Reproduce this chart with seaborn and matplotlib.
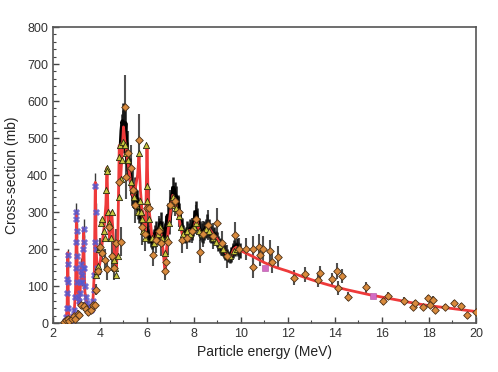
import numpy as np
import matplotlib
matplotlib.use("Agg")
import matplotlib.pyplot as plt
from matplotlib.ticker import MultipleLocator
import seaborn as sns

# Evaluated cross-section (red curve)
eval_e = [2.45, 2.55, 2.6, 2.63, 2.66, 2.72, 2.8, 2.9, 2.96, 3.0, 3.04, 3.1, 3.16, 3.2, 3.25, 3.3,
          3.35, 3.42, 3.5, 3.6, 3.7, 3.76, 3.8, 3.84, 3.9, 3.96, 4.02, 4.1, 4.18, 4.25, 4.3, 4.35,
          4.42, 4.5, 4.56, 4.62, 4.7, 4.76, 4.82, 4.88, 4.94, 5.0, 5.06, 5.12, 5.2, 5.28, 5.36,
          5.44, 5.52, 5.6, 5.66, 5.72, 5.78, 5.86, 5.94, 6.0, 6.04, 6.1, 6.2, 6.3, 6.4, 6.5, 6.6,
          6.7, 6.76, 6.82, 6.9, 7.0, 7.1, 7.2, 7.3, 7.4, 7.5, 7.6, 7.7, 7.8, 7.9, 8.0, 8.1, 8.2,
          8.3, 8.4, 8.5, 8.6, 8.7, 8.8, 8.9, 9.0, 9.1, 9.2, 9.3, 9.4, 9.5, 9.6, 9.7, 9.8, 9.9,
          10.0, 10.5, 11, 11.5, 12, 12.5, 13, 13.5, 14, 14.5, 15, 15.5, 16, 16.5, 17, 17.5, 18,
          18.5, 19, 19.5, 20]
eval_s = [0, 5, 40, 190, 30, 8, 12, 25, 90, 300, 120, 50, 90, 150, 110, 255,
          90, 50, 35, 30, 60, 140, 380, 190, 140, 150, 170, 220, 260, 320, 420, 260,
          230, 300, 240, 180, 150, 230, 480, 390, 460, 530, 490, 470, 430, 390, 350,
          340, 370, 400, 450, 360, 310, 270, 250, 480, 360, 300, 240, 220, 230, 250, 240,
          190, 140, 190, 250, 300, 345, 330, 300, 270, 240, 230, 240, 250, 245, 255, 285, 255,
          240, 235, 250, 260, 250, 240, 235, 225, 215, 205, 195, 185, 180, 185, 200, 205, 200,
          195, 180, 163, 150, 140, 128, 117, 107, 98, 90, 83, 76, 70, 64, 58, 52, 47,
          43, 39, 35, 31]

# Low-energy measurement (blue stars)
blue_e = [2.52, 2.56, 2.58, 2.6, 2.61, 2.62, 2.63, 2.64, 2.66, 2.7, 2.75, 2.8, 2.85, 2.9, 2.94,
          2.97, 2.98, 2.99, 3.0, 3.01, 3.02, 3.04, 3.07, 3.1, 3.13, 3.16, 3.18, 3.2, 3.22, 3.24,
          3.27, 3.29, 3.3, 3.31, 3.33, 3.36, 3.4, 3.45, 3.5, 3.55, 3.6, 3.65, 3.7, 3.73, 3.76,
          3.78, 3.8, 3.82, 3.84, 3.87, 3.9]
blue_s = [5, 15, 40, 80, 120, 160, 185, 110, 40, 10, 8, 12, 20, 35, 70,
          150, 220, 280, 300, 250, 180, 110, 70, 60, 80, 110, 140, 160, 130, 110,
          150, 200, 255, 220, 150, 100, 70, 55, 45, 40, 35, 40, 60, 90, 130,
          220, 370, 300, 200, 150, 140]
blue_err = [3, 5, 8, 10, 12, 12, 15, 10, 6, 4, 4, 4, 5, 6, 8,
            12, 15, 20, 25, 20, 15, 10, 8, 8, 8, 10, 12, 15, 12, 10,
            12, 15, 25, 18, 12, 10, 8, 6, 5, 5, 5, 5, 6, 8, 10,
            15, 35, 25, 15, 12, 12]

# Dense measurement 5-10 MeV (black)
black_e = [4.88, 4.92, 4.96, 5.0, 5.04, 5.08, 5.12, 5.16, 5.2, 5.26, 5.32, 5.38, 5.44, 5.5, 5.56,
           5.62, 5.68, 5.74, 5.8, 5.86, 5.92, 5.98, 6.04, 6.1, 6.16, 6.22, 6.28, 6.34, 6.4, 6.46,
           6.52, 6.58, 6.64, 6.7, 6.76, 6.82, 6.88, 6.94, 7.0, 7.06, 7.12, 7.18, 7.24, 7.3, 7.36,
           7.42, 7.48, 7.54, 7.6, 7.66, 7.72, 7.78, 7.84, 7.9, 7.96, 8.02, 8.08, 8.14, 8.2, 8.26,
           8.32, 8.38, 8.44, 8.5, 8.56, 8.62, 8.68, 8.74, 8.8, 8.86, 8.92, 8.98, 9.04, 9.1, 9.16,
           9.22, 9.28, 9.34, 9.4, 9.46, 9.52, 9.58, 9.64, 9.7, 9.76, 9.82, 9.88, 9.94]
black_s = [470, 520, 545, 530, 500, 540, 470, 450, 430, 410, 380, 350, 340, 360, 330,
           310, 300, 290, 280, 270, 260, 250, 240, 235, 225, 220, 230, 240, 250, 235,
           255, 270, 250, 235, 245, 260, 290, 270, 300, 340, 365, 350, 340, 320, 300,
           280, 260, 245, 235, 240, 250, 245, 255, 250, 260, 275, 300, 280, 260, 250,
           245, 240, 250, 255, 265, 255, 245, 240, 235, 240, 230, 225, 215, 210, 205,
           200, 195, 190, 185, 180, 178, 185, 195, 205, 200, 210, 200, 195]
black_err = [40, 45, 50, 45, 40, 50, 40, 40, 35, 35, 35, 30, 30, 35, 30,
             30, 30, 25, 25, 25, 25, 25, 25, 20, 20, 20, 25, 25, 25, 25,
             30, 30, 25, 25, 25, 30, 35, 30, 30, 30, 30, 30, 30, 25, 25,
             25, 25, 20, 20, 20, 25, 25, 25, 25, 25, 30, 30, 30, 25, 25,
             25, 25, 25, 25, 30, 25, 25, 25, 20, 20, 20, 20, 20, 20, 20,
             20, 20, 20, 15, 15, 15, 20, 20, 20, 20, 20, 20, 20]

# Triangles
tri_e = [3.82, 3.86, 3.9, 3.95, 4.0, 4.05, 4.1, 4.15, 4.2, 4.25, 4.28, 4.3, 4.33, 4.4, 4.45,
         4.5, 4.55, 4.6, 4.65, 4.7, 4.75, 4.8, 4.83, 4.86, 4.9, 4.95, 5.0, 5.05, 5.12, 5.2,
         5.3, 5.4, 5.45, 5.55, 5.6, 5.65, 5.7, 5.75, 5.8, 5.85, 5.9, 5.97, 6.0, 6.02, 6.1,
         6.2, 6.3, 6.45, 6.55, 6.65, 6.75, 6.85, 6.95, 7.05, 7.1, 7.15, 7.25, 7.35, 7.45, 7.55,
         7.7, 7.85, 8.0, 8.1, 8.2, 8.35, 8.5, 8.65, 8.8, 8.95, 9.1, 9.25, 9.4, 9.55, 9.7, 9.85]
tri_s = [130, 140, 155, 200, 205, 270, 280, 250, 230, 360, 420, 410, 300, 270, 230,
         300, 180, 170, 150, 130, 180, 340, 450, 480, 390, 440, 490, 480, 460, 440,
         380, 360, 340, 320, 300, 460, 330, 300, 280, 250, 230, 480, 370, 330, 280,
         230, 215, 240, 260, 230, 190, 230, 270, 320, 340, 330, 310, 290, 260, 240,
         250, 240, 260, 270, 250, 240, 255, 250, 230, 220, 210, 200, 185, 180, 195, 200]

# Diamonds (full energy range)
dia_e = [2.48, 2.55, 2.62, 2.7, 2.8, 2.9, 2.95, 3.05, 3.1, 3.2, 3.3, 3.4, 3.5, 3.6, 3.7,
         3.8, 3.83, 3.9, 4.0, 4.1, 4.2, 4.3, 4.4, 4.5, 4.6, 4.7, 4.8, 4.9, 5.06, 5.1,
         5.2, 5.3, 5.4, 5.5, 5.67, 5.8, 5.9, 6.0, 6.1, 6.27, 6.4, 6.5, 6.6, 6.77, 6.8,
         6.9, 7.0, 7.2, 7.35, 7.5, 7.7, 7.9, 8.1, 8.26, 8.4, 8.6, 8.8, 8.97, 9.2, 9.4,
         9.74, 9.9, 10.21, 10.5, 10.5, 10.77, 10.8, 10.95, 11.23, 11.33, 11.59, 12.27, 12.72,
         13.29, 13.36, 13.86, 14.1, 14.14, 14.28, 14.54, 15.32, 16.06, 16.27, 16.94, 17.3,
         17.4, 17.73, 17.97, 18.04, 18.18, 18.26, 18.68, 19.08, 19.36, 19.63, 20.0]
dia_s = [3, 8, 10, 6, 12, 20, 10, 25, 22, 50, 45, 38, 30, 35, 50,
         48, 90, 140, 205, 190, 170, 145, 260, 180, 150, 215, 380, 220, 585, 395,
         460, 420, 360, 320, 495, 260, 240, 310, 310, 185, 225, 250, 215, 140, 165,
         220, 320, 330, 300, 225, 230, 250, 280, 193, 240, 265, 235, 270, 215, 180,
         238, 200, 199, 200, 152, 206, 184, 199, 195, 164, 178, 122, 132,
         116, 134, 118, 140, 95, 127, 71, 96, 59, 73, 59, 44,
         53, 42, 67, 49, 62, 35, 44, 53, 46, 22, 29]
dia_err = [5, 5, 5, 5, 6, 8, 6, 10, 10, 12, 12, 10, 10, 10, 12,
           10, 15, 15, 25, 25, 30, 30, 40, 40, 35, 40, 50, 40, 85, 60,
           60, 60, 50, 50, 70, 50, 45, 50, 50, 30, 35, 40, 35, 25, 25,
           35, 40, 40, 40, 35, 30, 35, 40, 30, 35, 40, 35, 40, 35, 30,
           35, 30, 30, 35, 30, 35, 30, 35, 30, 30, 30, 20, 20,
           20, 20, 18, 22, 18, 20, 12, 15, 10, 10, 10, 10,
           10, 8, 10, 8, 10, 8, 8, 8, 8, 6, 6]

# Squares
sq_e = [11.02, 15.6]
sq_s = [148, 73]

sns.set_style("ticks")
plt.rcParams['font.family'] = ['Liberation Sans', 'DejaVu Sans']

fig = plt.figure(figsize=(4.98, 3.72), dpi=100)
ax = fig.add_axes([0.1064, 0.1317, 0.8494, 0.7957])

# error bars
ax.errorbar(dia_e, dia_s, yerr=dia_err, fmt='none', ecolor='#505050', elinewidth=1.5, zorder=1)
ax.errorbar(blue_e, blue_s, yerr=blue_err, fmt='none', ecolor='#3a3a3a', elinewidth=1.0, zorder=1)
ax.errorbar(black_e, black_s, yerr=black_err, fmt='none', ecolor='#1a1a1a', elinewidth=1.8, zorder=2)

sns.lineplot(x=black_e, y=black_s, sort=False, color='black', linewidth=3, ax=ax, zorder=3)
sns.lineplot(x=eval_e, y=eval_s, sort=False, color='#ee3a3a', linewidth=2.0, ax=ax, zorder=4)
sns.scatterplot(x=blue_e, y=blue_s, marker='X', s=20, color='#4b5bd6', edgecolor='#7a5ac0',
                linewidth=0.4, alpha=0.85, ax=ax, zorder=5)
sns.scatterplot(x=tri_e, y=tri_s, marker='^', s=20, color='#c9c63e', edgecolor='#2a2a10',
                linewidth=0.6, ax=ax, zorder=6)
sns.scatterplot(x=dia_e, y=dia_s, marker='D', s=15, color='#d98a3c', edgecolor='#4a3018',
                linewidth=0.6, ax=ax, zorder=7)
sns.scatterplot(x=sq_e, y=sq_s, marker='s', s=22, color='#d36cc4', edgecolor='#b050a0',
                linewidth=0.4, ax=ax, zorder=8)

ax.set_xlim(2, 20)
ax.set_ylim(0, 800)
ax.xaxis.set_major_locator(MultipleLocator(2))
ax.xaxis.set_minor_locator(MultipleLocator(1))
ax.yaxis.set_major_locator(MultipleLocator(100))
ax.yaxis.set_minor_locator(MultipleLocator(20))
ax.tick_params(which='both', direction='in', colors='#444444', labelcolor='#333333',
               labelsize=9, top=False, right=False)
ax.tick_params(which='major', length=4, width=1)
ax.tick_params(which='minor', length=2, width=0.8)
for sp in ax.spines.values():
    sp.set_color('#555555')
    sp.set_linewidth(1.2)
    sp.set_visible(True)

ax.set_xlabel('Particle energy (MeV)', fontsize=10, color='#222222', labelpad=4)
ax.set_ylabel('Cross-section (mb)', fontsize=10, color='#222222', labelpad=6)

fig.savefig('out.png', dpi=100, facecolor='white')
